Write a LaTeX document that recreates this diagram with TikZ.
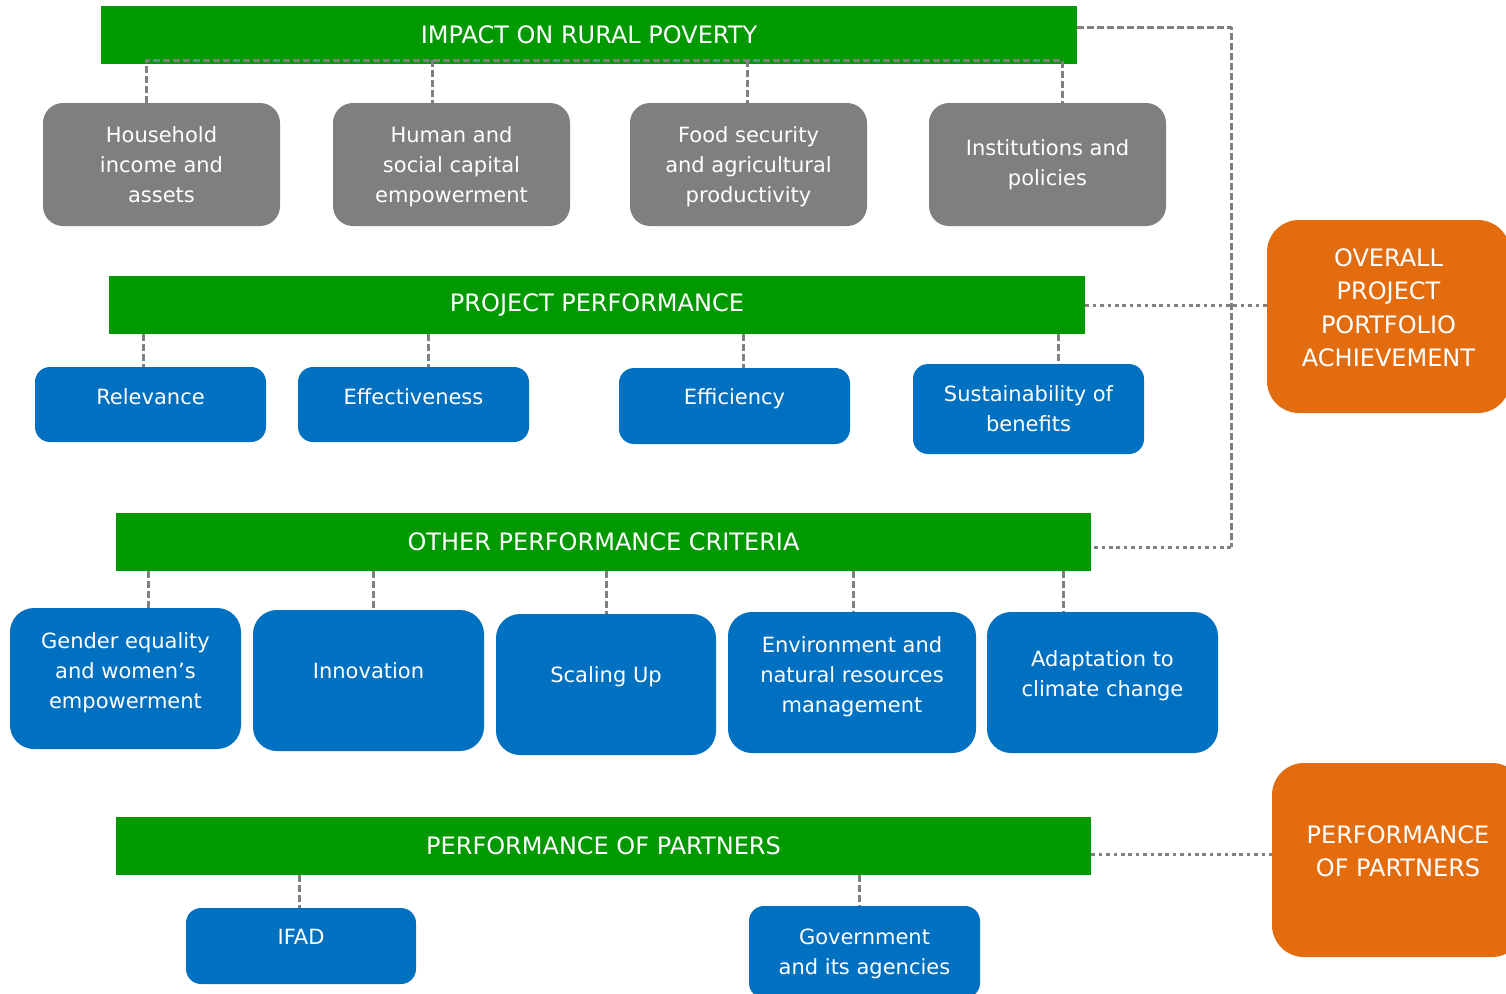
\documentclass[tikz,border=0pt]{standalone}
\usepackage{fontspec}
\setmainfont{DejaVu Sans}
\usepackage{tikz}
\usetikzlibrary{
  calc,       % 坐标计算
  positioning % 节点相对定位
}
\definecolor{barGreen}{RGB}{0,153,0}
\definecolor{boxGray}{RGB}{127,127,127}
\definecolor{boxBlue}{RGB}{0,112,192}
\definecolor{goalOrange}{RGB}{227,108,14}
\definecolor{linkGray}{RGB}{128,128,128}

\begin{document}
\begin{tikzpicture}[x=0.5pt, y=-0.5pt, line join=round]
  % 统一设置：绿色横条、灰/蓝/橙色圆角框、虚线与点线连接
  \tikzset{
    bar/.style={fill=barGreen, text=white, inner sep=0pt,
      minimum width=488pt, minimum height=29pt, font=\fontsize{12}{15}\selectfont},
    gray box/.style={fill=boxGray, text=white, rounded corners=10pt, align=center,
      minimum width=118.5pt, minimum height=61.5pt, font=\fontsize{10.5}{15}\selectfont},
    blue box/.style={fill=boxBlue, text=white, rounded corners=7.5pt, align=center,
      minimum width=115.5pt, minimum height=37.5pt, font=\fontsize{10.5}{15}\selectfont},
    big box/.style={blue box, rounded corners=12pt, minimum height=70.5pt},
    goal box/.style={fill=goalOrange, text=white, rounded corners=16pt, align=center,
      minimum height=96.5pt, font=\fontsize{12}{16.75}\selectfont},
    lift/.style={text depth=#1},
    dash link/.style={draw=linkGray, line width=1.5pt, dash pattern=on 3.5pt off 1.5pt},
    dot link/.style={draw=linkGray, line width=1.5pt, dash pattern=on 1.8pt off 1.9pt}
  }

  % 画布范围（与原图比例一致）
  \path[fill=white, use as bounding box] (0,0) rectangle (1506,993);

  % =======================
  % 第一层：对农村贫困的影响
  % =======================
  \node[bar] (impact) at (589,35) {IMPACT ON RURAL POVERTY};
  \node[gray box] (house) at (161.5,164.5) {Household\\income and\\assets};
  \node[gray box, lift=0pt] (human) at (451.5,164.5) {Human and\\social capital\\empowerment};
  \node[gray box, lift=0pt] (food)  at (748.5,164.5) {Food security\\and agricultural\\productivity};
  \node[gray box] (inst)  at (1047.5,164.5) {Institutions and\\policies};

  % 横条内的虚线总线及向下的分支
  \coordinate (j1) at (146,60);
  \coordinate (j2) at (432,60);
  \coordinate (j3) at (747,60);
  \coordinate (j4) at (1062,60);
  \draw[dash link] (house.north -| j1) -- (j1) -- (j4) -- (inst.north -| j4);
  \draw[dash link] (j2) -- (human.north -| j2);
  \draw[dash link] (j3) -- (food.north -| j3);

  % =======================
  % 第二层：项目绩效
  % =======================
  \node[bar] (perf) at (597,305) {PROJECT PERFORMANCE};
  \node[blue box, lift=8pt] (rel) at (150.5,404.5) {Relevance};
  \node[blue box, lift=8pt] (effect) at (413.5,404.5) {Effectiveness};
  \node[blue box, lift=9pt, minimum height=38pt] (effic) at (734.5,406) {Efficiency};
  \node[blue box, minimum height=45pt] (sustain) at (1028.5,409) {Sustainability of\\benefits};

  \foreach \x/\b in {143/rel, 428/effect, 743/effic, 1058/sustain}
    \draw[dash link] (perf.south -| \x,0) -- (\b.north -| \x,0);

  % =======================
  % 第三层：其他绩效标准
  % =======================
  \node[bar, minimum width=487.5pt] (other) at (603.5,542) {OTHER PERFORMANCE CRITERIA};
  \node[big box, lift=7.5pt] (gender) at (125.5,678.5) {Gender equality\\and women’s\\empowerment};
  \node[big box, lift=10pt] (innov) at (368.5,680.5) {Innovation};
  \node[big box, lift=9.5pt, minimum width=110pt] (scale) at (606,684.5) {Scaling Up};
  \node[big box, lift=7.5pt, minimum width=124pt] (enviro) at (852,682.5) {Environment and\\natural resources\\management};
  \node[big box, lift=9pt] (adapt) at (1102.5,682.5) {Adaptation to\\climate change};

  \foreach \x/\b in {148/gender, 373/innov, 606/scale, 853/enviro, 1063/adapt}
    \draw[dash link] (other.south -| \x,0) -- (\b.north -| \x,0);

  % =======================
  % 第四层：合作伙伴绩效
  % =======================
  \node[bar, minimum width=487.5pt] (partners) at (603.5,846) {PERFORMANCE OF PARTNERS};
  \node[blue box, lift=9pt, minimum width=115pt, minimum height=38pt] (ifad) at (301,946) {IFAD};
  \node[blue box, lift=0pt, minimum height=46pt] (gov) at (864.5,952) {Government\\and its agencies};

  \foreach \x/\b in {299/ifad, 859/gov}
    \draw[dash link] (partners.south -| \x,0) -- (\b.north -| \x,0);

  % =======================
  % 右侧：总体评价框
  % =======================
  \node[goal box, lift=9pt, minimum width=121.5pt] (overall) at (1388.5,316.5)
    {OVERALL\\PROJECT\\PORTFOLIO\\ACHIEVEMENT};
  \node[goal box, lift=9pt, minimum width=126pt, minimum height=97pt] (pbox) at (1398,860)
    {PERFORMANCE\\OF PARTNERS};

  % 右侧竖向虚线与横向点线
  \coordinate (spine) at (1231,547);
  \draw[dash link] ([yshift=4pt]impact.east) -| (spine);
  \draw[dot link] (spine) -- (other.east |- spine);
  \draw[dot link] (perf.east) -- (perf.east -| overall.west);
  \draw[dot link] ([yshift=-4pt]partners.east) -- ([yshift=-4pt]partners.east -| pbox.west);

\end{tikzpicture}
\end{document}
